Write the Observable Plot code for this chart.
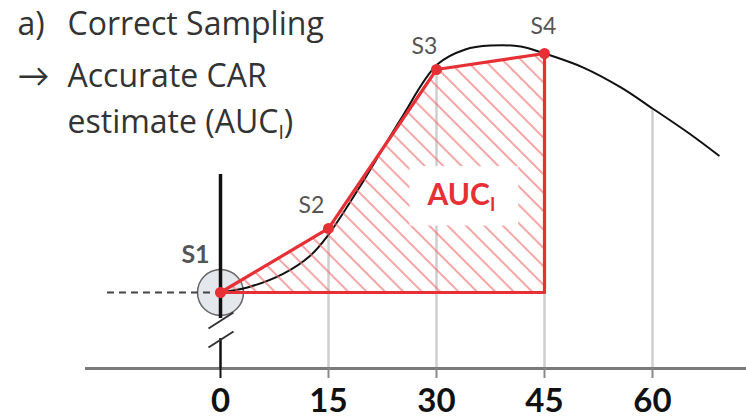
<!DOCTYPE html>
<html><head><meta charset="utf-8">
<script src="https://cdn.jsdelivr.net/npm/d3@7"></script>
<script src="https://cdn.jsdelivr.net/npm/@observablehq/plot@0.6"></script>
<style>body{margin:0;background:#fff;} svg{display:block;}</style>
</head><body><div id="chart"></div>
<script>
// ---- data ----
const sampleLabels = ["S1", "S2", "S3", "S4"];
const sampleTimes = [0, 15, 30, 45];
const sampleValues = [0, 26.8, 93.3, 100];
const curveTimes = [0, 3.75, 8.75, 12.5, 14.9, 19.9, 25, 30.1, 34, 37.5, 41.7, 45, 50.4, 55.6, 60, 65.3, 69.2];
const curveValues = [0, 2.1, 7.9, 15.5, 23.8, 46.9, 72.4, 95.4, 101.7, 103.3, 102.9, 100, 94.1, 85.8, 77, 66.1, 57.3];
const tickValues = [0, 15, 30, 45, 60];
const titleMarkers = ["a)", "→"];
const titleLines = ["Correct Sampling", "Accurate CAR", "estimate (AUC_I)"];
const areaLabel = ["AUC_I"];

// ---- derived tables ----
const samples = sampleTimes.map((t, i) => ({t, v: sampleValues[i], label: sampleLabels[i]}));
const curve = curveTimes.map((t, i) => ({t, v: curveValues[i]}));
const gridTops = tickValues.filter(t => t > 0).map(t => {
  const s = samples.find(d => d.t === t);
  return {t, v: s ? s.v : curve.find(d => d.t === t).v};
});
const lastT = sampleTimes[sampleTimes.length - 1];
const polygon = [...samples, {t: lastT, v: 0}, samples[0]];

// ---- layout ----
const W = 746, H = 419, PXX = 7.2, PXY = 2.39, X0 = 220, Y0 = 292, AXIS = 368;
const yMin = (Y0 - AXIS) / PXY, yMax = Y0 / PXY;
const RED = "#e63036";
const FONT = "Lato, 'Open Sans', sans-serif";
const TFONT = "'Open Sans', Lato, sans-serif";
const px2x = p => (p - X0) / PXX;
const px2y = p => (Y0 - p) / PXY;

const sampleLabelMark = (label, dx, dy, bold, size) =>
  Plot.text(samples.filter(d => d.label === label), {
    x: "t", y: "v", text: "label", dx, dy, lineAnchor: "middle",
    fontSize: size, fontWeight: bold ? "bold" : "normal", fill: "#555", fontFamily: FONT
  });

const titleMark = (text, dx, dy) =>
  Plot.text([text], {frameAnchor: "top-left", text: d => d, dx, dy, textAnchor: "start", lineAnchor: "middle",
    fontSize: 32, fill: "#333", fontFamily: TFONT});

const plot = Plot.plot({
  width: W, height: H,
  marginTop: 0, marginLeft: 0, marginRight: 0, marginBottom: H - AXIS,
  x: {domain: [px2x(0), px2x(W)], range: [0, W], axis: null},
  y: {domain: [yMin, yMax], range: [AXIS, 0], axis: null},
  style: {fontFamily: FONT, background: "white"},
  marks: [
    Plot.ruleX(gridTops, {x: "t", y1: yMin, y2: "v", stroke: "#cfcfcf", strokeWidth: 2.5}),
    Plot.ruleY([yMin], {x1: px2x(85), x2: px2x(W), stroke: "#7a7a7a", strokeWidth: 3}),
    Plot.ruleX(tickValues, {x: d => d, y1: yMin, y2: yMin, insetBottom: -10, stroke: d => d === 0 ? "#111" : "#8a8a8a", strokeWidth: 2}),
    Plot.dot(samples.slice(0, 1), {x: "t", y: "v", r: 23, fill: "#e4e7ec", stroke: "#666", strokeWidth: 1.5}),
    Plot.ruleY([0], {x1: px2x(107), x2: 0, stroke: "#444", strokeWidth: 2, strokeDasharray: "7,5"}),
    Plot.ruleX([0], {y1: px2y(174), y2: px2y(318), stroke: "#111", strokeWidth: 3.5}),
    Plot.ruleX([0], {y1: px2y(338), y2: yMin, stroke: "#111", strokeWidth: 2.5}),
    Plot.link([{a: 328, b: 312}, {a: 347, b: 331}], {
      x1: () => px2x(208), x2: () => px2x(233),
      y1: d => px2y(d.a), y2: d => px2y(d.b), stroke: "#333", strokeWidth: 2
    }),
    Plot.line(curve, {x: "t", y: "v", curve: "catmull-rom", stroke: "#111", strokeWidth: 2}),
    Plot.areaY(samples, {x: "t", y1: 0, y2: "v", fill: "url(#hatch)"}),
    Plot.text(areaLabel, {x: lastT, y: 0, dx: -117, dy: -97, text: d => d, textAnchor: "start", lineAnchor: "middle",
      fontSize: 30, fontWeight: "bold", fill: RED, fontFamily: FONT}),
    Plot.line(polygon, {x: "t", y: "v", stroke: RED, strokeWidth: 3.2}),
    Plot.dot(samples, {x: "t", y: "v", r: 5.5, fill: RED}),
    sampleLabelMark("S1", -25, -38, true, 25),
    sampleLabelMark("S2", -17, -23, false, 23),
    sampleLabelMark("S3", -12, -23, false, 23),
    sampleLabelMark("S4", -1, -27, false, 23),
    Plot.text(tickValues, {x: d => d, frameAnchor: "bottom", dy: 33, text: d => String(d), lineAnchor: "middle",
      fontSize: 33, fontWeight: "bold", fill: "#111", fontFamily: FONT}),
    titleMark(titleMarkers[0], 17, 24),
    titleMark(titleLines[0], 67, 24),
    titleMark(titleMarkers[1], 17, 76),
    titleMark(titleLines[1], 67, 76),
    titleMark(titleLines[2], 67, 122)
  ]
});

document.getElementById("chart").appendChild(plot);

// hatch pattern definition
const svg = d3.select(plot);
const defs = svg.insert("defs", ":first-child");
const pat = defs.append("pattern").attr("id", "hatch").attr("patternUnits", "userSpaceOnUse")
  .attr("width", 13).attr("height", 13).attr("patternTransform", "rotate(-45)");
pat.append("line").attr("x1", 1).attr("y1", 0).attr("x2", 1).attr("y2", 13)
  .attr("stroke", "#ef6a6a").attr("stroke-width", 1.2);

// subscripts and white box behind the AUC label
svg.selectAll("text").each(function() {
  const el = d3.select(this);
  const txt = this.textContent;
  if (!txt.includes("AUC_I")) return;
  const [before, after] = txt.split("AUC_I");
  el.text(null);
  el.append("tspan").text(before + "AUC");
  el.append("tspan").attr("font-size", "0.6em").attr("dy", "0.3em").text("I");
  if (after) el.append("tspan").attr("dy", "-0.18em").text(after);
  if (before === "") {
    const b = this.getBBox();
    const r = d3.select(this.parentNode).insert("rect", () => this)
      .attr("x", b.x - 17).attr("y", b.y - 9).attr("width", b.width + 40).attr("height", b.height + 20)
      .attr("fill", "white").attr("stroke", "none");
    if (this.getAttribute("transform")) r.attr("transform", this.getAttribute("transform"));
  }
});
</script>
</body></html>
